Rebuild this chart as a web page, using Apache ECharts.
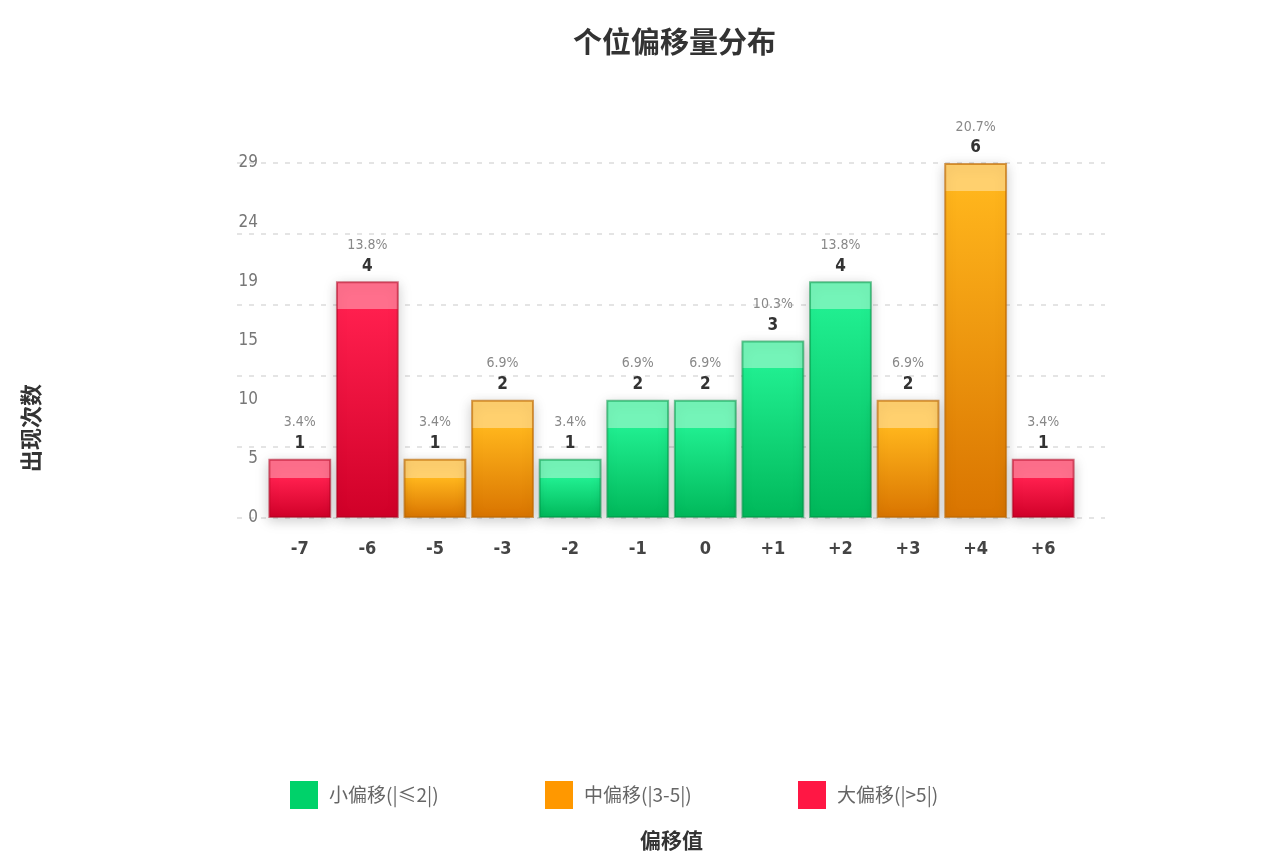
<!DOCTYPE html>
<html>
<head>
<meta charset="utf-8">
<script src="https://cdn.jsdelivr.net/npm/echarts@6/dist/echarts.min.js"></script>
<style>
html,body{margin:0;padding:0;background:#fff;}
#c{width:1263px;height:860px;}
</style>
</head>
<body>
<div id="c"></div>
<script>
const categories = ['-7','-6','-5','-3','-2','-1','0','+1','+2','+3','+4','+6'];
const counts = [1,4,1,2,1,2,2,3,4,2,6,1];
const groups = [2,2,1,1,0,0,0,0,0,1,1,2];
const groupNames = ['小偏移(|≤2|)','中偏移(|3-5|)','大偏移(|>5|)'];
const yTickLabels = ['0','5','10','15','19','24','29'];

const FONT = "'DejaVu Sans Condensed','Liberation Sans Narrow','Noto Sans CJK SC',sans-serif";
const CJK = "'Noto Sans CJK SC',sans-serif";
const total = counts.reduce((a,b)=>a+b,0);

const palette = [
  {band:'#74f4b8', top:'#20ee90', bottom:'#00b85a', border:'rgba(0,150,70,0.55)', legend:'#00d26a'},
  {band:'#ffd06e', top:'#ffb51c', bottom:'#d97400', border:'rgba(190,105,0,0.65)', legend:'#ff9800'},
  {band:'#ff6f8c', top:'#ff1f4e', bottom:'#d00028', border:'rgba(175,0,30,0.55)', legend:'#ff1744'}
];
const legendLeft = [290, 545, 798];

function fillFor(g, v){
  const p = palette[g];
  const f = Math.min(0.33, 28/(v*59.2));
  return {type:'linear', x:0, y:0, x2:0, y2:1, colorStops:[
    {offset:0, color:p.band},{offset:f, color:p.band},
    {offset:f, color:p.top},{offset:1, color:p.bottom}]};
}

const series = [0,1,2].map(g => ({
  name: groupNames[g],
  type:'bar',
  xAxisIndex:1, yAxisIndex:1,
  stack:'all',
  barCategoryGap:'7%',
  itemStyle:{color:palette[g].legend, borderColor:palette[g].border, borderWidth:2,
    shadowBlur:12, shadowColor:'rgba(0,0,0,0.2)', shadowOffsetY:3},
  label:{show:true, position:'top', distance:6,
    formatter: p => '{p|' + (p.value/total*100).toFixed(1) + '%}\n{v|' + p.value + '}',
    rich:{
      p:{fontFamily:FONT, fontSize:14, color:'#888', lineHeight:24},
      v:{fontFamily:FONT, fontSize:17, fontWeight:'bold', color:'#333', lineHeight:18}
    }},
  data: counts.map((c,i) => groups[i]===g ? {value:c, itemStyle:{color:fillFor(g,c)}} : '-')
}));

const legends = [0,1,2].map(g => ({
  left: legendLeft[g], top: 781, padding:0, itemWidth:28, itemHeight:28, icon:'rect',
  data:[{name:groupNames[g], itemStyle:{color:palette[g].legend, borderWidth:0}}],
  textStyle:{fontFamily:CJK, fontSize:19, color:'#666', padding:[0,0,0,6]}
}));

const chart = echarts.init(document.getElementById('c'));
chart.setOption({
  animation:false,
  backgroundColor:'#fff',
  title:{text:'个位偏移量分布', left:568, top:22,
    textStyle:{fontFamily:CJK, fontSize:29, fontWeight:'bold', color:'#333'}},
  legend: legends,
  grid:[
    {left:237, right:158, top:163, bottom:342},
    {left:266, right:186, top:163, bottom:342}
  ],
  xAxis:[
    {type:'value', gridIndex:0, min:0, max:1, show:false},
    {type:'category', gridIndex:1, data:categories,
      axisLine:{show:false}, axisTick:{show:false},
      axisLabel:{fontFamily:FONT, fontSize:18, fontWeight:'bold', color:'#444', margin:22}}
  ],
  yAxis:[
    {type:'value', gridIndex:0, min:0, max:6, interval:1.2,
      axisLine:{show:false}, axisTick:{show:false}, axisLabel:{show:false},
      splitLine:{show:true, lineStyle:{color:'#dcdcdc', type:[5,7], width:1.5}}},
    {type:'value', gridIndex:1, min:0, max:6, interval:1,
      axisLine:{show:false}, axisTick:{show:false}, splitLine:{show:false},
      axisLabel:{fontFamily:FONT, fontSize:17, color:'#777', margin:8,
        formatter: v => yTickLabels[Math.round(v)]}}
  ],
  graphic:[
    {type:'text', left:20, top:384, rotation:Math.PI/2,
      style:{text:'出现次数', fontFamily:CJK, fontSize:22, fontWeight:'bold', fill:'#333'}},
    {type:'text', left:640, top:830,
      style:{text:'偏移值', fontFamily:CJK, fontSize:21, fontWeight:'bold', fill:'#333'}}
  ],
  series: series
});
</script>
</body>
</html>
